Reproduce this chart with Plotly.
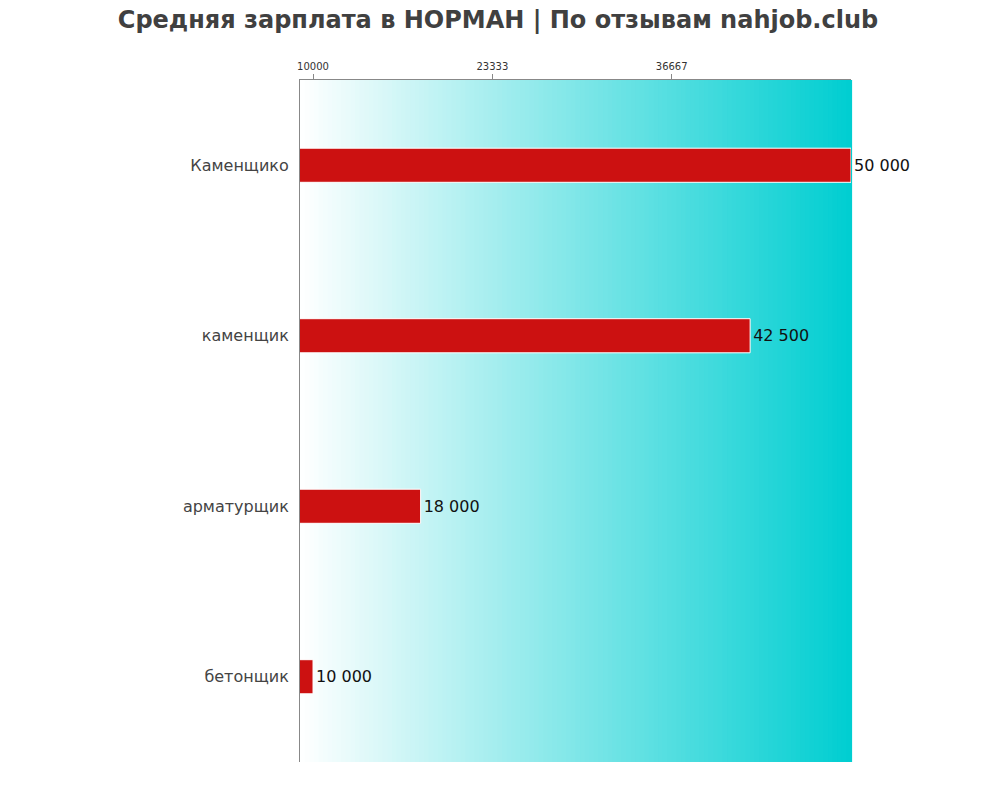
import plotly.graph_objects as go

categories = ["Каменщико", "каменщик", "арматурщик", "бетонщик"]
values = [50000, 42500, 18000, 10000]
labels = ["50 000", "42 500", "18 000", "10 000"]
tick_vals = [10000, 23333, 36667]
tick_text = ["10000", "23333", "36667"]

fig = go.Figure()
fig.add_trace(go.Bar(
    y=categories, x=values, orientation="h",
    width=0.2,
    marker=dict(color="#CC1111", line=dict(color="white", width=1)),
    text=labels, textposition="outside",
    textfont=dict(family="DejaVu Sans", size=16, color="#111111"),
    cliponaxis=False,
))

# gradient background strips
n = 120
c0 = (255, 255, 255)
c1 = (0, 206, 209)
shapes = []
for i in range(n):
    t = (i + 0.5) / n
    col = tuple(round(c0[k] + (c1[k] - c0[k]) * t) for k in range(3))
    shapes.append(dict(type="rect", xref="paper", yref="paper",
                       x0=i / n, x1=(i + 1) / n + 0.002, y0=0, y1=1,
                       fillcolor="rgb(%d,%d,%d)" % col, line=dict(width=0),
                       layer="below"))

fig.update_layout(
    width=1000, height=800,
    margin=dict(l=292, r=157, t=72, b=46),
    paper_bgcolor="white", plot_bgcolor="white",
    shapes=shapes,
    showlegend=False,
    title=dict(text="<b>Средняя зарплата в НОРМАН | По отзывам nahjob.club</b>",
               x=0.49, xref="container", xanchor="center",
               y=1, yref="container", yanchor="top", pad=dict(t=3),
               font=dict(family="DejaVu Sans", size=24, color="#404040")),
    xaxis=dict(side="top", range=[9032, 50000], tickvals=tick_vals, ticktext=tick_text,
               ticks="outside", ticklen=5, tickcolor="#888888",
               showgrid=False, zeroline=False, showline=True, linecolor="#888888", linewidth=1,
               tickfont=dict(family="DejaVu Sans", size=10, color="#333333")),
    yaxis=dict(categoryorder="array", categoryarray=categories, autorange="reversed",
               showgrid=False, zeroline=False, showline=True, linecolor="#888888", linewidth=1,
               ticks="", ticklabelstandoff=7,
               tickfont=dict(family="DejaVu Sans", size=16, color="#444444")),
)

fig.write_html("out.html")
